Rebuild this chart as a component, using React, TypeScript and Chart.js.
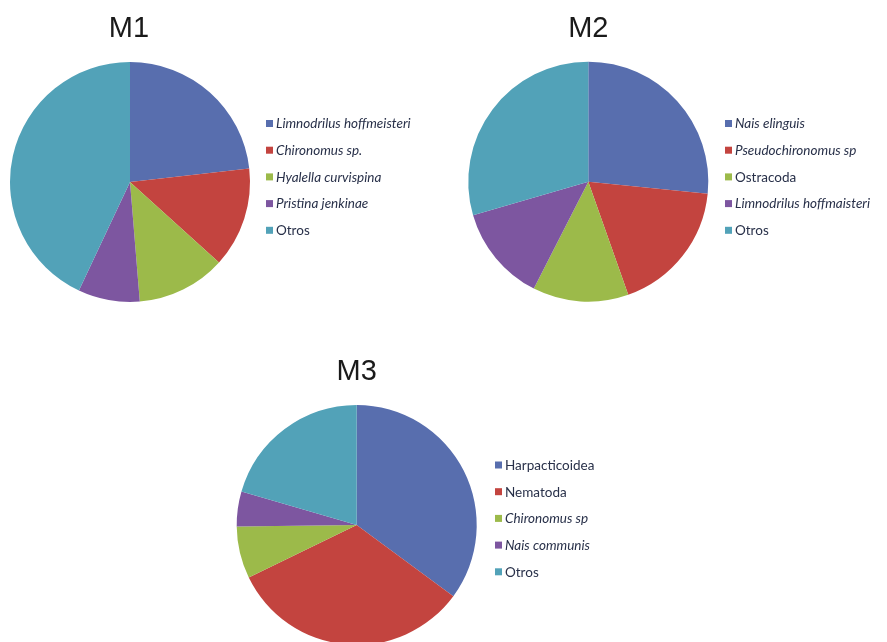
import React, { useEffect, useRef } from "react";
import { Chart, registerables } from "chart.js";

Chart.register(...registerables);

// Sample M1
const m1Labels = ["Limnodrilus hoffmeisteri", "Chironomus sp.", "Hyalella curvispina", "Pristina jenkinae", "Otros"];
const m1Italic = [true, true, true, true, false];
const m1Values = [23.2, 13.5, 12.0, 8.3, 43.0];

// Sample M2
const m2Labels = ["Nais elinguis", "Pseudochironomus sp", "Ostracoda", "Limnodrilus hoffmaisteri", "Otros"];
const m2Italic = [true, true, false, true, false];
const m2Values = [26.6, 18.0, 12.9, 13.0, 29.5];

// Sample M3
const m3Labels = ["Harpacticoidea", "Nematoda", "Chironomus sp", "Nais communis", "Otros"];
const m3Italic = [false, false, true, true, false];
const m3Values = [35.1, 32.7, 7.0, 4.7, 20.5];

const sliceColors = ["#586eae", "#c3443f", "#9cba4a", "#7d56a0", "#52a2b8"];

type PanelLayout = {
  left: number;
  top: number;
  width: number;
  height: number;
  cx: number; // pie centre inside the canvas
  cy: number;
  r: number;
  titleX: number;
  titleY: number;
  legendX: number;
  legendY: number;
};

// Draws the panel title and a legend with per-item italic styling
const sideLegend = {
  id: "sideLegend",
  afterDraw(chart: any, _args: any, opts: any) {
    const ctx = chart.ctx as CanvasRenderingContext2D;
    ctx.save();
    ctx.fillStyle = "#1a1a1a";
    ctx.font = "29px 'Liberation Sans', Arial, sans-serif";
    ctx.textAlign = "center";
    ctx.textBaseline = "alphabetic";
    ctx.fillText(opts.title, opts.titleX, opts.titleY);

    const labels: string[] = chart.data.labels;
    const colors: string[] = chart.data.datasets[0].backgroundColor;
    const italic: boolean[] = opts.italic;
    ctx.textAlign = "left";
    ctx.textBaseline = "middle";
    labels.forEach((lab, i) => {
      const y = opts.legendY + i * opts.rowGap;
      ctx.fillStyle = colors[i];
      ctx.fillRect(opts.legendX, y - 3.5, 7, 7);
      ctx.fillStyle = "#283049";
      ctx.font = `${italic[i] ? "italic " : ""}13.5px Lato, 'Open Sans', sans-serif`;
      ctx.fillText(lab, opts.legendX + 10, y + 0.5);
    });
    ctx.restore();
  },
};

function PiePanel(props: {
  title: string;
  labels: string[];
  values: number[];
  italic: boolean[];
  layout: PanelLayout;
}) {
  const ref = useRef<HTMLCanvasElement | null>(null);
  const { title, labels, values, italic, layout } = props;

  useEffect(() => {
    if (!ref.current) return;
    const L = layout;
    const chart = new Chart(ref.current, {
      type: "pie",
      data: {
        labels,
        datasets: [
          {
            data: values,
            backgroundColor: sliceColors,
            borderWidth: 0,
          },
        ],
      },
      options: {
        responsive: false,
        animation: false,
        layout: {
          padding: {
            left: L.cx - L.r,
            top: L.cy - L.r,
            right: L.width - (L.cx + L.r),
            bottom: L.height - (L.cy + L.r),
          },
        },
        plugins: {
          legend: { display: false },
          tooltip: { enabled: false },
          sideLegend: {
            title,
            titleX: L.titleX,
            titleY: L.titleY,
            legendX: L.legendX,
            legendY: L.legendY,
            rowGap: 26.7,
            italic,
          },
        } as any,
      },
      plugins: [sideLegend],
    });
    return () => chart.destroy();
  }, []);

  return (
    <canvas
      ref={ref}
      width={layout.width}
      height={layout.height}
      style={{
        position: "absolute",
        left: layout.left,
        top: layout.top,
        width: layout.width,
        height: layout.height,
      }}
    />
  );
}

const m1Layout: PanelLayout = {
  left: 0, top: 0, width: 443, height: 320,
  cx: 130, cy: 182, r: 120,
  titleX: 129, titleY: 37,
  legendX: 266, legendY: 123.5,
};

const m2Layout: PanelLayout = {
  left: 443, top: 0, width: 444, height: 320,
  cx: 145.3, cy: 181.7, r: 120,
  titleX: 145.3, titleY: 37,
  legendX: 282, legendY: 123.5,
};

const m3Layout: PanelLayout = {
  left: 200, top: 330, width: 460, height: 320,
  cx: 156.7, cy: 195, r: 120,
  titleX: 156.7, titleY: 50,
  legendX: 295, legendY: 135,
};

export default function App() {
  return (
    <div
      style={{
        position: "fixed",
        left: 0,
        top: 0,
        width: 887,
        height: 642,
        overflow: "hidden",
        background: "#ffffff",
      }}
    >
      <PiePanel title="M1" labels={m1Labels} values={m1Values} italic={m1Italic} layout={m1Layout} />
      <PiePanel title="M2" labels={m2Labels} values={m2Values} italic={m2Italic} layout={m2Layout} />
      <PiePanel title="M3" labels={m3Labels} values={m3Values} italic={m3Italic} layout={m3Layout} />
    </div>
  );
}
